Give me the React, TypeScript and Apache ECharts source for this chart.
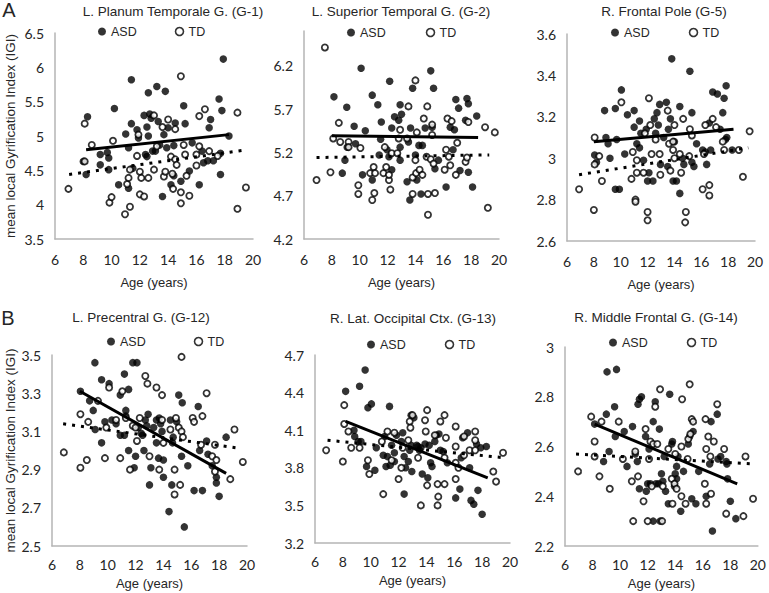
import React, { useEffect, useRef } from "react";
import * as echarts from "echarts";

const panelTitles = [
  "L. Planum Temporale G. (G-1)",
  "L. Superior Temporal G. (G-2)",
  "R. Frontal Pole (G-5)",
  "L. Precentral G. (G-12)",
  "R. Lat. Occipital Ctx. (G-13)",
  "R. Middle Frontal G. (G-14)",
];
const yMins = [3.5, 4.2, 2.6, 2.5, 3.2, 2.2];
const yMaxs = [6.5, 6.6, 3.6, 3.5, 4.7, 3.0];
const yIntervals = [0.5, 0.5, 0.2, 0.2, 0.3, 0.2];
const xMin = 6;
const xMax = 20;
const xInterval = 2;
const yAxisTitle = "mean local Gyrification Index (IGI)";
const xAxisTitle = "Age (years)";
const groupNames = ["ASD", "TD"];

// Panel 1: L. Planum Temporale G.
const p1Asd = [[8.3,5.28],[8.0,4.63],[8.2,4.44],[9.2,4.73],[9.2,4.58],[9.7,4.76],[9.8,4.68],[9.8,4.51],[10.2,5.40],[10.5,4.29],[11.0,5.03],[11.2,4.83],[11.2,4.24],[11.4,5.82],[11.4,5.18],[11.5,4.53],[11.8,5.09],[11.9,4.97],[12.3,5.30],[12.4,4.73],[12.5,5.13],[12.5,4.70],[12.6,5.63],[12.6,5.00],[12.7,5.32],[12.8,5.26],[12.9,4.78],[13.1,4.78],[13.2,5.72],[13.3,5.21],[13.4,4.87],[13.6,4.12],[13.7,5.02],[13.8,5.65],[13.9,4.83],[14.0,5.12],[14.2,4.29],[14.4,4.86],[14.4,4.42],[14.5,5.19],[14.9,4.34],[15.1,5.44],[15.2,5.18],[15.5,4.49],[15.7,4.90],[16.2,4.29],[16.4,4.78],[16.5,4.61],[16.8,4.64],[16.9,5.12],[17.0,5.24],[17.2,4.64],[17.6,5.54],[17.7,4.75],[17.7,4.44],[17.8,5.37],[17.9,6.12],[18.3,5.00]];
const p1Td = [[6.95,4.23],[8.1,5.18],[8.1,4.63],[8.6,4.87],[9.85,4.03],[10.0,4.11],[10.1,4.93],[10.95,3.86],[11.1,4.30],[11.2,4.39],[11.3,3.97],[11.3,4.51],[11.8,4.71],[11.9,5.02],[12.0,4.48],[12.0,4.15],[12.1,4.39],[12.3,4.12],[12.6,4.39],[13.0,4.51],[13.0,5.30],[13.2,4.85],[13.6,5.13],[13.7,4.41],[13.8,4.48],[14.0,5.24],[14.2,4.70],[14.3,4.45],[14.35,4.23],[14.5,5.10],[14.5,4.66],[14.6,4.58],[14.9,5.87],[14.9,4.18],[14.9,4.02],[15.1,4.87],[15.2,4.73],[15.3,4.42],[15.5,4.13],[16.0,4.57],[16.0,4.73],[16.2,5.29],[16.2,4.85],[16.6,5.39],[16.9,4.78],[17.5,4.71],[18.9,5.34],[18.9,3.94],[19.5,4.25]];
const p1AsdTrend = [[8.2,4.80],[18.3,5.02]];
const p1TdTrend = [[7.0,4.44],[19.6,4.80]];

// Panel 2: L. Superior Temporal G.
const p2Asd = [[8.15,5.84],[9.07,5.72],[8.94,5.11],[8.75,4.96],[9.1,5.26],[9.6,5.50],[9.7,5.30],[10.1,6.17],[10.2,4.94],[10.4,5.45],[10.9,5.86],[10.9,4.88],[11.3,5.75],[11.4,5.17],[11.5,5.35],[11.55,5.55],[11.96,5.23],[12.1,5.15],[12.15,6.02],[12.3,5.0],[12.3,5.48],[12.5,5.61],[12.8,5.57],[12.9,5.75],[12.9,5.26],[13.0,5.64],[12.9,5.11],[13.4,4.86],[13.5,5.32],[13.6,4.65],[13.65,5.48],[13.8,5.94],[14.0,5.17],[14.1,4.88],[14.25,5.28],[14.4,4.72],[14.5,5.28],[14.7,5.48],[15.1,6.14],[15.2,5.49],[15.3,5.94],[15.4,5.01],[15.65,5.11],[16.2,4.80],[16.5,5.49],[16.7,5.23],[16.8,5.46],[16.9,5.81],[17.1,5.71],[17.2,4.99],[17.6,5.57],[17.7,5.82],[17.8,5.76],[17.8,4.97],[18.1,4.80],[18.4,5.62]];
const p2Td = [[7.5,6.41],[6.9,4.88],[7.9,4.97],[8.1,5.36],[8.5,5.54],[8.6,5.32],[9.2,5.32],[9.2,5.26],[9.9,4.82],[9.9,4.72],[10.05,5.25],[10.75,4.96],[11.0,5.03],[10.9,4.65],[11.05,4.73],[11.1,4.96],[11.7,4.96],[11.8,5.26],[11.9,5.03],[12.1,4.88],[12.1,4.94],[12.2,4.77],[12.3,5.19],[12.7,5.19],[12.8,5.36],[12.9,5.46],[13.4,5.36],[13.5,5.73],[13.8,4.72],[13.8,4.91],[14.0,5.11],[14.0,6.03],[14.05,4.96],[14.1,5.43],[14.3,5.0],[14.5,4.94],[14.6,5.59],[14.8,5.15],[14.85,5.73],[14.9,4.72],[14.9,4.48],[15.1,5.12],[15.2,5.52],[15.2,5.40],[15.3,5.07],[15.4,4.73],[16.1,5.0],[16.2,5.23],[16.3,5.59],[16.4,5.15],[16.5,5.05],[16.6,5.56],[16.9,4.94],[17.0,5.31],[17.6,5.09],[17.7,5.14],[17.8,5.55],[19.0,5.49],[19.2,4.56],[19.7,5.43]];
const p2AsdTrend = [[8.0,5.39],[18.5,5.37]];
const p2TdTrend = [[6.9,5.14],[19.3,5.17]];

// Panel 3: R. Frontal Pole
const p3Asd = [[8.06,3.015],[8.2,2.98],[8.8,3.23],[8.9,3.10],[9.06,3.07],[9.2,3.0],[9.6,3.24],[9.7,3.09],[9.6,2.85],[9.9,2.85],[10.05,3.33],[10.3,3.02],[10.5,3.21],[11.0,3.23],[11.0,3.15],[11.2,3.07],[11.4,3.05],[11.4,3.18],[11.5,3.12],[11.7,2.99],[11.9,3.14],[12.0,2.89],[12.1,2.93],[12.4,2.89],[12.5,3.19],[12.6,3.12],[12.7,3.22],[12.8,3.16],[12.96,2.97],[12.9,3.26],[13.2,3.10],[13.4,3.27],[13.5,2.96],[13.55,3.14],[13.7,3.19],[13.8,3.48],[13.9,2.89],[14.0,3.08],[14.15,2.89],[14.4,3.25],[14.4,2.83],[14.6,3.0],[14.7,2.97],[15.15,3.42],[15.3,3.22],[15.3,2.98],[15.45,2.96],[15.65,3.07],[16.1,3.04],[16.3,3.03],[16.4,2.97],[16.6,3.17],[16.7,3.04],[16.85,3.32],[17.2,3.31],[17.4,3.14],[17.6,3.22],[17.7,3.29],[17.85,3.35],[17.8,3.09],[17.9,3.10],[18.3,3.04]];
const p3Td = [[6.9,2.85],[8.0,2.75],[8.06,3.10],[8.06,2.97],[8.4,3.01],[8.6,2.89],[10.05,3.27],[10.8,2.90],[10.9,3.03],[11.1,2.80],[11.1,2.79],[11.2,2.99],[11.2,2.93],[11.7,2.93],[11.8,3.12],[12.0,2.74],[12.0,2.70],[12.1,3.29],[12.2,3.16],[12.3,3.02],[12.6,3.09],[12.9,3.02],[12.95,2.92],[13.5,3.23],[13.6,3.07],[13.9,3.08],[13.9,3.04],[14.0,3.16],[13.7,2.94],[14.0,3.0],[14.4,3.02],[14.5,2.93],[14.65,3.19],[14.85,2.74],[14.8,2.69],[15.1,3.01],[15.15,3.14],[15.3,3.11],[16.1,2.85],[16.3,3.16],[16.6,2.87],[16.6,2.82],[16.2,3.02],[16.85,3.19],[17.1,3.15],[17.7,3.04],[17.6,3.08],[18.8,3.04],[19.1,2.91],[19.6,3.13]];
const p3AsdTrend = [[8.0,3.08],[18.4,3.14]];
const p3TdTrend = [[6.9,2.92],[19.5,3.05]];

// Panel 4: L. Precentral G.
const p4Asd = [[8.04,3.31],[8.7,3.26],[9.08,3.46],[8.96,3.21],[9.1,3.11],[9.56,3.37],[9.56,3.04],[9.8,3.15],[10.1,3.35],[10.3,3.16],[10.6,3.14],[10.9,3.29],[10.9,3.08],[11.2,3.08],[11.2,3.40],[11.3,3.21],[11.3,3.18],[11.5,3.0],[11.5,3.32],[11.8,3.46],[11.9,2.91],[12.0,2.97],[12.1,3.46],[12.2,3.12],[12.4,3.09],[12.5,3.08],[12.6,3.0],[12.7,3.16],[12.8,3.13],[12.9,3.19],[13.0,2.82],[13.1,2.91],[13.3,3.12],[13.5,3.16],[13.5,3.04],[13.65,2.96],[13.7,3.17],[13.8,3.14],[13.9,3.10],[14.0,2.86],[14.0,2.95],[14.4,2.68],[14.5,3.16],[14.6,2.82],[14.65,3.04],[14.7,3.07],[14.95,3.15],[15.1,3.29],[15.3,2.97],[15.35,3.25],[15.5,2.60],[15.75,2.92],[16.2,2.79],[16.5,3.23],[16.6,3.0],[16.8,2.79],[17.1,3.05],[17.2,2.98],[17.5,2.92],[17.8,2.86],[17.8,2.83],[18.0,2.76],[18.5,3.07]];
const p4Td = [[6.85,2.99],[8.04,3.19],[8.04,2.91],[8.5,2.95],[8.6,3.15],[9.3,3.26],[9.9,3.12],[9.8,2.96],[10.1,3.33],[10.6,3.16],[10.9,2.96],[11.05,3.31],[11.3,3.17],[11.6,2.9],[11.8,3.13],[12.0,3.12],[12.1,3.05],[12.3,3.17],[12.7,3.39],[12.85,3.35],[13.0,2.97],[13.5,3.33],[13.7,2.9],[13.9,3.29],[13.9,3.16],[14.0,3.04],[14.5,3.11],[14.8,2.9],[14.8,2.77],[14.9,3.17],[15.1,3.12],[15.3,3.49],[15.2,2.82],[15.3,3.10],[15.4,3.07],[16.1,3.17],[16.2,3.15],[16.8,3.18],[16.7,3.03],[17.1,3.30],[17.5,2.97],[17.7,3.03],[17.7,2.89],[17.8,2.95],[18.8,2.85],[19.1,3.11],[19.7,2.94]];
const p4AsdTrend = [[8.0,3.31],[18.5,2.88]];
const p4TdTrend = [[6.8,3.14],[19.6,3.01]];

// Panel 5: R. Lat. Occipital Ctx.
const p5Asd = [[8.2,4.41],[9.2,4.45],[9.6,4.58],[8.8,4.10],[8.85,4.05],[9.1,4.01],[9.3,4.01],[9.7,3.81],[9.8,4.28],[10.05,4.31],[10.3,3.78],[10.4,3.96],[10.9,3.90],[11.0,4.05],[11.1,3.81],[11.2,3.89],[11.35,4.29],[11.4,3.82],[11.5,3.98],[11.7,3.92],[11.7,3.85],[11.85,4.06],[12.2,4.01],[12.3,4.08],[12.4,3.59],[12.4,3.89],[12.5,3.80],[12.7,3.85],[12.8,3.94],[12.9,4.22],[12.95,3.77],[12.9,3.98],[13.1,4.20],[13.3,3.98],[13.4,3.97],[13.5,3.94],[13.6,3.96],[13.7,3.75],[13.9,3.99],[14.1,3.72],[14.2,3.98],[14.3,3.84],[14.4,3.81],[14.6,4.01],[14.7,4.06],[14.9,4.07],[15.0,3.94],[15.2,3.93],[15.5,3.84],[16.1,3.56],[16.4,3.63],[16.5,3.88],[16.6,4.04],[16.95,4.08],[17.1,3.80],[17.2,3.54],[17.4,3.51],[17.6,3.99],[17.7,3.62],[17.9,3.96],[18.0,3.43],[18.3,3.97]];
const p5Td = [[6.8,3.94],[8.0,3.85],[8.1,4.30],[8.1,4.15],[8.4,4.09],[8.6,3.96],[9.2,3.96],[9.8,3.86],[9.9,3.75],[10.8,4.01],[10.9,3.59],[11.2,4.09],[11.5,3.86],[11.7,4.08],[12.0,3.71],[12.2,3.80],[12.3,3.96],[12.7,4.02],[12.8,4.17],[12.85,4.12],[13.0,4.22],[13.4,3.88],[13.6,3.50],[13.9,4.18],[13.95,4.09],[14.05,4.26],[14.05,3.66],[14.6,4.06],[14.8,3.67],[14.85,3.57],[14.8,3.50],[15.0,4.17],[15.3,4.22],[15.3,3.67],[15.4,4.04],[15.3,3.88],[16.1,4.13],[16.1,3.97],[16.1,3.84],[16.1,3.71],[16.3,3.80],[16.7,4.05],[16.7,3.90],[17.1,3.94],[17.5,4.09],[17.5,4.02],[17.5,3.94],[18.8,3.77],[19.0,3.69],[19.5,3.92]];
const p5AsdTrend = [[8.2,4.17],[18.4,3.72]];
const p5TdTrend = [[6.9,4.02],[19.6,3.88]];

// Panel 6: R. Middle Frontal G.
const p6Asd = [[8.15,2.69],[9.05,2.90],[9.74,2.91],[9.0,2.73],[9.2,2.58],[8.8,2.54],[9.6,2.76],[9.65,2.64],[10.3,2.66],[10.5,2.52],[10.9,2.68],[11.1,2.57],[11.25,2.54],[11.3,2.77],[11.4,2.79],[11.55,2.80],[11.4,2.43],[11.85,2.64],[11.9,2.42],[12.0,2.45],[12.1,2.59],[12.2,2.45],[12.4,2.70],[12.55,2.78],[12.6,2.45],[12.8,2.45],[12.9,2.30],[12.4,2.30],[12.85,2.67],[13.0,2.49],[13.1,2.46],[13.2,2.56],[13.3,2.42],[13.5,2.37],[13.6,2.81],[13.75,2.61],[13.8,2.62],[13.95,2.44],[14.0,2.49],[14.1,2.52],[14.1,2.47],[14.2,2.56],[14.4,2.34],[14.6,2.50],[14.95,2.61],[15.05,2.64],[15.2,2.39],[15.3,2.66],[15.5,2.37],[15.7,2.50],[16.25,2.40],[16.5,2.53],[16.6,2.70],[16.7,2.26],[17.05,2.73],[17.1,2.55],[17.3,2.56],[17.7,2.54],[17.75,2.53],[17.8,2.47],[18.0,2.38],[18.4,2.31]];
const p6Td = [[6.95,2.50],[7.9,2.72],[8.15,2.62],[8.15,2.56],[8.5,2.48],[8.65,2.70],[9.25,2.43],[9.9,2.70],[10.2,2.55],[10.85,2.46],[10.95,2.30],[11.1,2.58],[11.3,2.48],[11.7,2.38],[11.85,2.67],[12.0,2.30],[12.1,2.55],[12.2,2.62],[12.3,2.44],[12.4,2.61],[12.55,2.76],[12.7,2.61],[12.9,2.83],[13.05,2.30],[13.1,2.44],[13.5,2.59],[13.75,2.47],[13.8,2.37],[13.95,2.45],[14.0,2.57],[14.1,2.43],[14.45,2.60],[14.45,2.40],[14.5,2.79],[14.75,2.37],[14.9,2.55],[14.95,2.63],[15.05,2.85],[15.1,2.65],[15.2,2.71],[15.3,2.70],[16.15,2.45],[16.2,2.71],[16.25,2.59],[16.25,2.37],[16.4,2.64],[16.55,2.56],[16.6,2.41],[16.8,2.62],[17.05,2.77],[17.55,2.59],[17.7,2.33],[18.95,2.32],[19.1,2.56],[19.65,2.39]];
const p6AsdTrend = [[8.15,2.69],[18.5,2.45]];
const p6TdTrend = [[6.8,2.57],[19.7,2.53]];

const asdData = [p1Asd, p2Asd, p3Asd, p4Asd, p5Asd, p6Asd];
const tdData = [p1Td, p2Td, p3Td, p4Td, p5Td, p6Td];
const asdTrends = [p1AsdTrend, p2AsdTrend, p3AsdTrend, p4AsdTrend, p5AsdTrend, p6AsdTrend];
const tdTrends = [p1TdTrend, p2TdTrend, p3TdTrend, p4TdTrend, p5TdTrend, p6TdTrend];

// layout (pixels)
const grids = [
  { left: 55, top: 33, width: 198, height: 206 },
  { left: 304, top: 31, width: 195, height: 208 },
  { left: 567, top: 34, width: 188, height: 207 },
  { left: 52, top: 355, width: 195, height: 191 },
  { left: 315, top: 355, width: 195, height: 188 },
  { left: 565, top: 347, width: 196, height: 199 },
];
const titlePos = [[173, 11], [401, 11], [664, 11], [141, 317], [413, 318], [656, 317]];
const legendPos = [[97, 27], [346, 28], [610, 28], [106, 337], [366, 340], [608, 338]];
const legendTdPos = [172, 423, 686, 191, 442, 684];

const AXIS_COLOR = "#b5b5b5";
const TEXT_COLOR = "#262626";
const SANS = "'Liberation Sans', Arial, sans-serif";
const TICK_FONT = "Lato, 'Liberation Sans', sans-serif";

export default function App() {
  const ref = useRef<HTMLDivElement>(null);
  useEffect(() => {
    if (!ref.current) return;
    const chart = echarts.init(ref.current, null, { renderer: "svg" });

    const xAxes = grids.map((_, i) => ({
      type: "value",
      gridIndex: i,
      min: xMin,
      max: xMax,
      interval: xInterval,
      axisLine: { show: true, lineStyle: { color: AXIS_COLOR, width: 1.5 } },
      axisTick: { show: false },
      splitLine: { show: false },
      axisLabel: { color: TEXT_COLOR, fontFamily: TICK_FONT, fontSize: 14, margin: i < 3 ? 13 : 11 },
      name: xAxisTitle,
      nameLocation: "middle",
      nameGap: i < 3 ? 37 : 31,
      nameTextStyle: { color: TEXT_COLOR, fontFamily: SANS, fontSize: 13 },
    }));

    const yAxes = grids.map((_, i) => ({
      type: "value",
      gridIndex: i,
      min: yMins[i],
      max: yMaxs[i],
      interval: yIntervals[i],
      axisLine: { show: true, lineStyle: { color: AXIS_COLOR, width: 1.5 } },
      axisTick: { show: false },
      splitLine: { show: false },
      axisLabel: {
        color: TEXT_COLOR,
        fontFamily: TICK_FONT,
        fontSize: 14,
        margin: 11,
        showMaxLabel: i === 1 ? false : true,
      },
      name: i === 0 || i === 3 ? yAxisTitle : "",
      nameLocation: "middle",
      nameGap: i === 0 ? 38 : 35,
      nameRotate: 90,
      nameTextStyle: { color: TEXT_COLOR, fontFamily: SANS, fontSize: 13.5 },
    }));

    const series: any[] = [];
    grids.forEach((_, i) => {
      series.push({
        name: groupNames[0],
        type: "scatter",
        xAxisIndex: i,
        yAxisIndex: i,
        data: asdData[i],
        symbol: "circle",
        symbolSize: 7.5,
        itemStyle: { color: "#000" },
        z: 2,
      });
      series.push({
        name: groupNames[1],
        type: "scatter",
        xAxisIndex: i,
        yAxisIndex: i,
        data: tdData[i],
        symbol: "circle",
        symbolSize: 6.2,
        itemStyle: { color: "#fff", borderColor: "#000", borderWidth: 1.8 },
        z: 2,
      });
      series.push({
        name: "ASD trend",
        type: "line",
        xAxisIndex: i,
        yAxisIndex: i,
        data: asdTrends[i],
        symbol: "none",
        lineStyle: { color: "#000", width: 3 },
        z: 4,
      });
      series.push({
        name: "TD trend",
        type: "line",
        xAxisIndex: i,
        yAxisIndex: i,
        data: tdTrends[i],
        symbol: "none",
        lineStyle: { color: "#000", width: 3, type: [3, 6] },
        z: 4,
      });
    });

    const legends = legendPos.map(([x, y], i) => ({
      left: x - 4,
      top: y - 7,
      orient: "horizontal",
      itemWidth: 8,
      itemHeight: 8,
      itemGap: legendTdPos[i] - x - 37,
      textStyle: { color: TEXT_COLOR, fontFamily: SANS, fontSize: 12.5 },
      data: [
        { name: groupNames[0], icon: "circle", itemStyle: { color: "#000" } },
        { name: groupNames[1], icon: "circle", itemStyle: { color: "#fff", borderColor: "#000", borderWidth: 1.6 } },
      ],
      selectedMode: false,
    }));

    const graphics: any[] = panelTitles.map((t, i) => ({
      type: "text",
      x: titlePos[i][0],
      y: titlePos[i][1],
      style: {
        text: t,
        fill: TEXT_COLOR,
        font: `13.5px ${SANS}`,
        align: "center",
        verticalAlign: "middle",
        textAlign: "center",
        textVerticalAlign: "middle",
      },
    }));
    graphics.push({
      type: "text",
      x: 9,
      y: 10,
      style: { text: "A", fill: TEXT_COLOR, font: `20px ${SANS}`, align: "center", verticalAlign: "middle", textAlign: "center", textVerticalAlign: "middle" },
    });
    graphics.push({
      type: "text",
      x: 8,
      y: 318,
      style: { text: "B", fill: TEXT_COLOR, font: `20px ${SANS}`, align: "center", verticalAlign: "middle", textAlign: "center", textVerticalAlign: "middle" },
    });

    chart.setOption({
      animation: false,
      backgroundColor: "#fff",
      grid: grids.map((g) => ({ ...g, containLabel: false })),
      xAxis: xAxes,
      yAxis: yAxes,
      legend: legends,
      series,
      graphic: graphics,
    });
    return () => chart.dispose();
  }, []);
  return (
    <div
      ref={ref}
      style={{ position: "fixed", left: 0, top: 0, width: 769, height: 593 }}
    />
  );
}
